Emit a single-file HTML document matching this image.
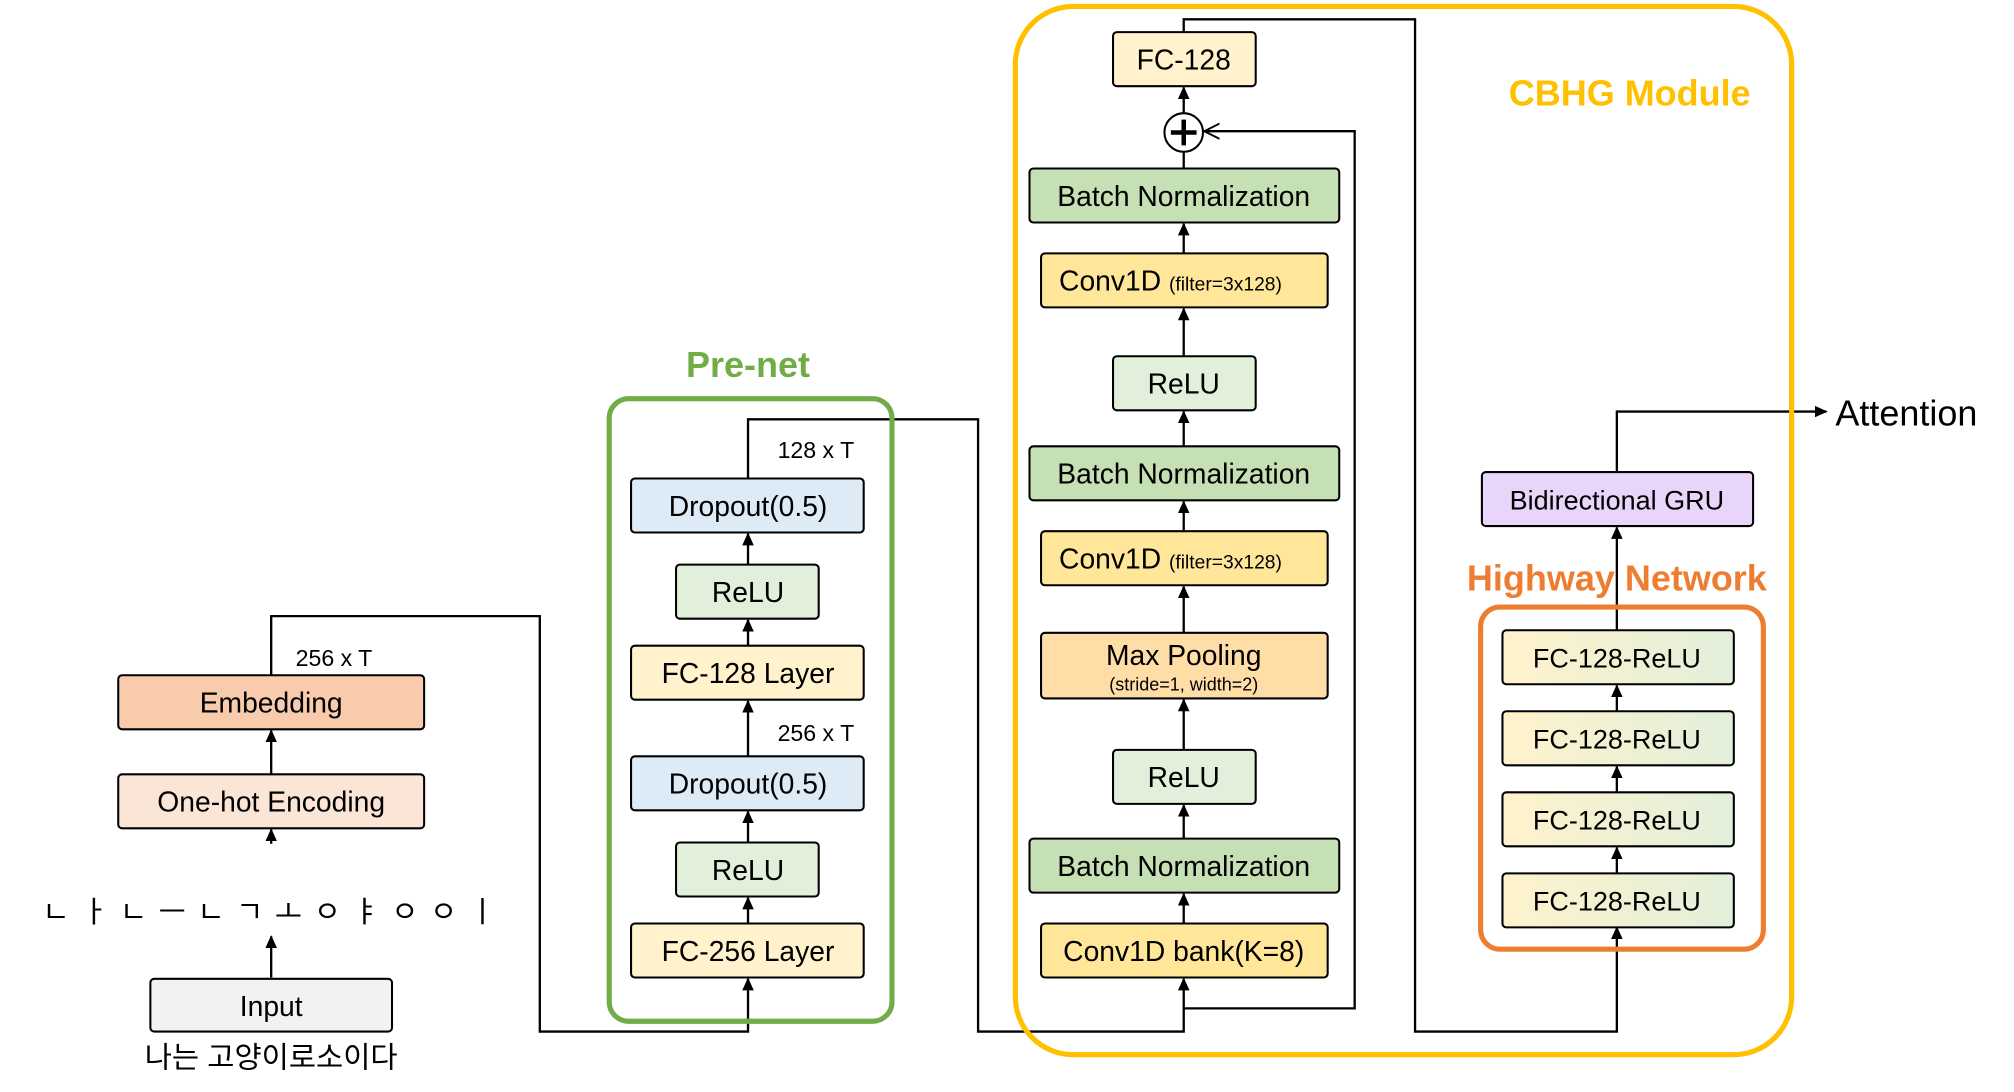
<!DOCTYPE html>
<html><head><meta charset="utf-8"><style>
html,body{margin:0;padding:0;background:#fff;}
svg{display:block;}
text{font-family:"Liberation Sans","Noto Sans CJK KR",sans-serif;fill:#000;}
</style></head><body>
<svg width="2014" height="1092" viewBox="0 0 1567 849" preserveAspectRatio="none" xmlns="http://www.w3.org/2000/svg">
<defs>
<marker id="a" markerWidth="10" markerHeight="10" refX="9" refY="5" orient="auto" markerUnits="userSpaceOnUse"><path d="M0,0.5 L10,5 L0,9.5 Z" fill="#000"/></marker>
<marker id="o" markerWidth="14" markerHeight="14" refX="12" refY="7" orient="auto" markerUnits="userSpaceOnUse"><path d="M0,1 L12,7 L0,13" fill="none" stroke="#000" stroke-width="1.5"/></marker>
<linearGradient id="g" x1="0" x2="1" y1="0" y2="0"><stop offset="0" stop-color="#FFF2CC"/><stop offset="1" stop-color="#E2EFDA"/></linearGradient>
</defs>
<g fill="none" stroke="#000" stroke-width="1.8">
<line x1="211" y1="602" x2="211" y2="568" marker-end="url(#a)"/>
<line x1="211" y1="656" x2="211" y2="645" marker-end="url(#a)"/>
<line x1="211" y1="760" x2="211" y2="728" marker-end="url(#a)"/>
<polyline points="211,525 211,479 420,479 420,802 582,802 582,761" marker-end="url(#a)"/>
<line x1="582" y1="718" x2="582" y2="698" marker-end="url(#a)"/>
<line x1="582" y1="655" x2="582" y2="631" marker-end="url(#a)"/>
<line x1="582" y1="588" x2="582" y2="545" marker-end="url(#a)"/>
<line x1="582" y1="502" x2="582" y2="482" marker-end="url(#a)"/>
<line x1="582" y1="439" x2="582" y2="415" marker-end="url(#a)"/>
<polyline points="582,372 582,326 761,326 761,802 921,802 921,761" marker-end="url(#a)"/>
<line x1="921" y1="718" x2="921" y2="695" marker-end="url(#a)"/>
<line x1="921" y1="652" x2="921" y2="626" marker-end="url(#a)"/>
<line x1="921" y1="583" x2="921" y2="544" marker-end="url(#a)"/>
<line x1="921" y1="492" x2="921" y2="456" marker-end="url(#a)"/>
<line x1="921" y1="413" x2="921" y2="390" marker-end="url(#a)"/>
<line x1="921" y1="347" x2="921" y2="320" marker-end="url(#a)"/>
<line x1="921" y1="277" x2="921" y2="240" marker-end="url(#a)"/>
<line x1="921" y1="197" x2="921" y2="174" marker-end="url(#a)"/>
<line x1="921" y1="131" x2="921" y2="118"/>
<line x1="921" y1="88" x2="921" y2="68" marker-end="url(#a)"/>
<polyline points="921,784 1054,784 1054,102 937,102" marker-end="url(#o)"/>
<polyline points="921,25 921,15 1101,15 1101,802 1258,802 1258,721" marker-end="url(#a)"/>
<line x1="1258" y1="679" x2="1258" y2="659" marker-end="url(#a)"/>
<line x1="1258" y1="616" x2="1258" y2="596" marker-end="url(#a)"/>
<line x1="1258" y1="553" x2="1258" y2="533" marker-end="url(#a)"/>
<line x1="1258" y1="490" x2="1258" y2="410" marker-end="url(#a)"/>
<polyline points="1258,367 1258,320 1421,320" marker-end="url(#a)"/>
</g>
<rect x="474" y="310" width="220" height="484" rx="15" fill="none" stroke="#70AD47" stroke-width="4"/>
<rect x="790" y="5" width="604" height="815" rx="45" fill="none" stroke="#FFC000" stroke-width="4"/>
<rect x="1152" y="472" width="220" height="266" rx="15" fill="none" stroke="#ED7D31" stroke-width="4"/>
<g stroke="#000" stroke-width="1.6">
<rect x="92" y="525" width="238" height="42" rx="3" fill="#F8CBAD"/>
<rect x="92" y="602" width="238" height="42" rx="3" fill="#FBE5D6"/>
<rect x="117" y="761" width="188" height="41" rx="3" fill="#F2F2F2"/>
<rect x="491" y="718" width="181" height="42" rx="3" fill="#FFF2CC"/>
<rect x="526" y="655" width="111" height="42" rx="3" fill="#E2EFDA"/>
<rect x="491" y="588" width="181" height="42" rx="3" fill="#DDEBF7"/>
<rect x="491" y="502" width="181" height="42" rx="3" fill="#FFF2CC"/>
<rect x="526" y="439" width="111" height="42" rx="3" fill="#E2EFDA"/>
<rect x="491" y="372" width="181" height="42" rx="3" fill="#DDEBF7"/>
<rect x="810" y="718" width="223" height="42" rx="3" fill="#FFE699"/>
<rect x="801" y="652" width="241" height="42" rx="3" fill="#C5E0B4"/>
<rect x="866" y="583" width="111" height="42" rx="3" fill="#E2EFDA"/>
<rect x="810" y="492" width="223" height="51" rx="3" fill="#FFDDA6"/>
<rect x="810" y="413" width="223" height="42" rx="3" fill="#FFE699"/>
<rect x="801" y="347" width="241" height="42" rx="3" fill="#C5E0B4"/>
<rect x="866" y="277" width="111" height="42" rx="3" fill="#E2EFDA"/>
<rect x="810" y="197" width="223" height="42" rx="3" fill="#FFE699"/>
<rect x="801" y="131" width="241" height="42" rx="3" fill="#C5E0B4"/>
<rect x="866" y="25" width="111" height="42" rx="3" fill="#FFF2CC"/>
<circle cx="921" cy="103" r="15" fill="#fff"/>
<rect x="1169" y="490" width="180" height="42" rx="3" fill="url(#g)"/>
<rect x="1169" y="553" width="180" height="42" rx="3" fill="url(#g)"/>
<rect x="1169" y="616" width="180" height="42" rx="3" fill="url(#g)"/>
<rect x="1169" y="679" width="180" height="42" rx="3" fill="url(#g)"/>
<rect x="1153" y="367" width="211" height="42" rx="3" fill="#EAD5FA"/>
</g>
<path d="M911,103 H931 M921,93 V113" stroke="#000" stroke-width="3.5"/>
<g font-size="22" text-anchor="middle">
<text x="211" y="554">Embedding</text>
<text x="211" y="631">One-hot Encoding</text>
<text x="211" y="790">Input</text>
<text x="211" y="830" font-size="23">나는 고양이로소이다</text>
<text x="582" y="747">FC-256 Layer</text>
<text x="582" y="684">ReLU</text>
<text x="582" y="617">Dropout(0.5)</text>
<text x="582" y="531">FC-128 Layer</text>
<text x="582" y="468">ReLU</text>
<text x="582" y="401">Dropout(0.5)</text>
<text x="921" y="747">Conv1D bank(K=8)</text>
<text x="921" y="681">Batch Normalization</text>
<text x="921" y="612">ReLU</text>
<text x="921" y="517">Max Pooling</text>
<text x="921" y="537" font-size="14">(stride=1, width=2)</text>
<text x="921" y="376">Batch Normalization</text>
<text x="921" y="306">ReLU</text>
<text x="921" y="160">Batch Normalization</text>
<text x="921" y="54">FC-128</text>
<text x="1258" y="519" font-size="21">FC-128-ReLU</text>
<text x="1258" y="582" font-size="21">FC-128-ReLU</text>
<text x="1258" y="645" font-size="21">FC-128-ReLU</text>
<text x="1258" y="708" font-size="21">FC-128-ReLU</text>
<text x="1258" y="396" font-size="21">Bidirectional GRU</text>
</g>
<g font-size="22">
<text x="824" y="442">Conv1D <tspan font-size="15">(filter=3x128)</tspan></text>
<text x="824" y="226">Conv1D <tspan font-size="15">(filter=3x128)</tspan></text>
<text x="230" y="518" font-size="18">256 x T</text>
<text x="605" y="576" font-size="18">256 x T</text>
<text x="605" y="356" font-size="18">128 x T</text>
<text x="1428" y="331" font-size="28">Attention</text>
<text x="33" y="717" font-size="23" letter-spacing="9">ㄴㅏㄴㅡㄴㄱㅗㅇㅑㅇㅇㅣ</text>
</g>
<g font-weight="bold" text-anchor="middle" font-size="28">
<text x="582" y="293" style="fill:#70AD47">Pre-net</text>
<text x="1268" y="82" style="fill:#FFC000">CBHG Module</text>
<text x="1258" y="459" style="fill:#ED7D31">Highway Network</text>
</g>
</svg>
</body></html>
